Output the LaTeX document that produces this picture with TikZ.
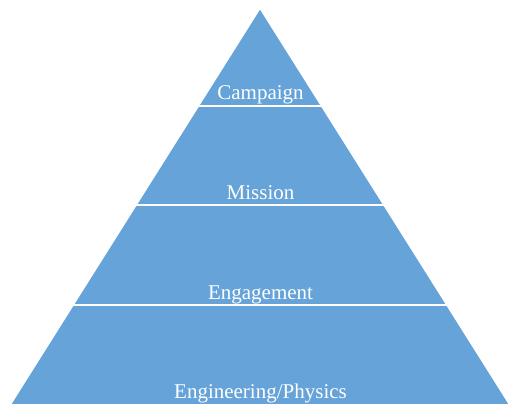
\documentclass[tikz,border=0pt]{standalone}
\usepackage{fontspec}
\setmainfont{Liberation Serif}
\usetikzlibrary{calc}
\definecolor{layerblue}{RGB}{101,163,217}
\begin{document}
\begin{tikzpicture}[x=1pt,y=-1pt,
  layer/.style={fill=layerblue,draw=white,line width=1.6pt,line join=miter},
  lbl/.style={text=white,font=\fontsize{21}{21}\selectfont,anchor=base,inner sep=0pt}]
\useasboundingbox (0,0) rectangle (508,406);
\coordinate (A) at (260,8);
\coordinate (BL) at (10,405);
\coordinate (BR) at (510,405);
\coordinate (L1) at ($(A)!0.2469!(BL)$);
\coordinate (R1) at ($(A)!0.2469!(BR)$);
\coordinate (L2) at ($(A)!0.4962!(BL)$);
\coordinate (R2) at ($(A)!0.4962!(BR)$);
\coordinate (L3) at ($(A)!0.7481!(BL)$);
\coordinate (R3) at ($(A)!0.7481!(BR)$);
\path[layer] (A) -- (R1) -- (L1) -- cycle;
\path[layer] (L1) -- (R1) -- (R2) -- (L2) -- cycle;
\path[layer] (L2) -- (R2) -- (R3) -- (L3) -- cycle;
\path[layer] (L3) -- (R3) -- (BR) -- (BL) -- cycle;
\node[lbl] (t1) at (260.5,100) {Campaign};
\node[lbl] (t2) at (260.5,199) {Mission};
\node[lbl] (t3) at (260.5,299) {Engagement};
\node[lbl] (t4) at (260.5,398.5) {Engineering/Physics};
\end{tikzpicture}
\end{document}
